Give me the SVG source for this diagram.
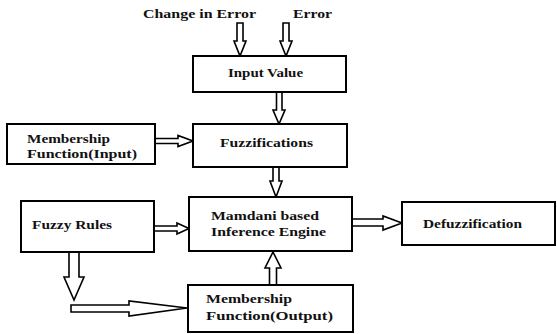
<svg xmlns="http://www.w3.org/2000/svg" width="557" height="334" viewBox="0 0 557 334">
<style>
.box{fill:#fff;stroke:#000;stroke-width:2}
.arr{fill:#fff;stroke:#000;stroke-width:1.6;stroke-linejoin:miter}
text{font-family:"Liberation Serif","Times New Roman",serif;font-weight:bold;font-size:13.5px;fill:#111}
</style>
<rect width="557" height="334" fill="#fff"/>
<g id="connectors">
<polygon class="arr" points="237,23 243,23 243,41 246,41 240,56 234,41 237,41"/>
<polygon class="arr" points="283,23 289,23 289,41 292,41 286,56 280,41 283,41"/>
<polygon class="arr" points="276.5,92 282,92 282,110 285,110 279,124 273,110 276.5,110"/>
<polygon class="arr" points="273,167 279,167 279,181 282,181 276,197 270,181 273,181"/>
<polygon class="arr" points="155,138.5 178,138.5 178,135.5 193,141 178,146.5 178,143.5 155,143.5"/>
<polygon class="arr" points="154,226 177,226 177,223 189,228.5 177,234 177,231 154,231"/>
<polygon class="arr" points="352,219 383,219 383,216 402,223 383,230 383,226 352,226"/>
<polygon class="arr" points="269.5,285 276.5,285 276.5,268 281,268 273,252 265,268 269.5,268"/>
<polygon class="arr" points="69,252 79,252 79,277 84,277 74,300 64,277 69,277"/>
<polygon class="arr" points="71,305 129,305 129,301 187,308 129,316 129,312 71,312"/>
</g>
<g id="change-in-error"><text x="143" y="18" textLength="113" lengthAdjust="spacingAndGlyphs">Change in Error</text></g>
<g id="error"><text x="293" y="18" textLength="39" lengthAdjust="spacingAndGlyphs">Error</text></g>
<g id="input-value">
<rect class="box" x="193" y="56" width="153" height="36"/>
<text x="228" y="77" textLength="75" lengthAdjust="spacingAndGlyphs">Input Value</text>
</g>
<g id="mf-input">
<rect class="box" x="7" y="124" width="148" height="40"/>
<text x="27" y="143" textLength="83" lengthAdjust="spacingAndGlyphs">Membership</text>
<text x="27" y="158" textLength="110" lengthAdjust="spacingAndGlyphs">Function(Input)</text>
</g>
<g id="fuzzifications">
<rect class="box" x="193" y="124" width="154" height="43"/>
<text x="220" y="147" textLength="93" lengthAdjust="spacingAndGlyphs">Fuzzifications</text>
</g>
<g id="fuzzy-rules">
<rect class="box" x="21" y="201" width="133" height="51"/>
<text x="32" y="229" textLength="80" lengthAdjust="spacingAndGlyphs">Fuzzy Rules</text>
</g>
<g id="mamdani">
<rect class="box" x="189" y="197" width="163" height="54"/>
<text x="211" y="220" textLength="108" lengthAdjust="spacingAndGlyphs">Mamdani based</text>
<text x="211" y="236" textLength="115" lengthAdjust="spacingAndGlyphs">Inference Engine</text>
</g>
<g id="defuzzification">
<rect class="box" x="402" y="202" width="153" height="43"/>
<text x="423" y="228" textLength="99" lengthAdjust="spacingAndGlyphs">Defuzzification</text>
</g>
<g id="mf-output">
<rect class="box" x="188" y="285" width="165" height="47"/>
<text x="206" y="303" textLength="86" lengthAdjust="spacingAndGlyphs">Membership</text>
<text x="206" y="320" textLength="127" lengthAdjust="spacingAndGlyphs">Function(Output)</text>
</g>
</svg>
